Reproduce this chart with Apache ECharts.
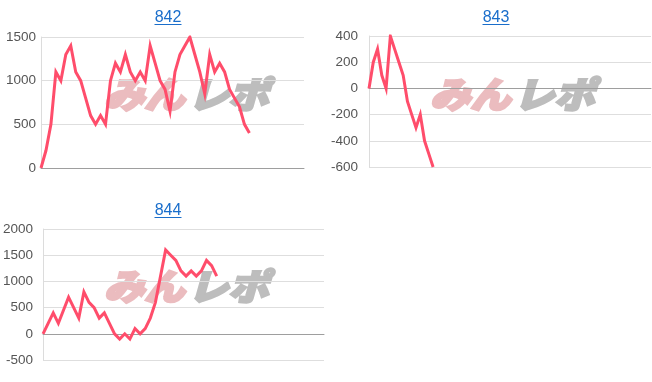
<!DOCTYPE html>
<html><head><meta charset="utf-8">
<script src="https://cdn.jsdelivr.net/npm/echarts@6/dist/echarts.min.js"></script>
<style>html,body{margin:0;padding:0;background:#fff}#c{width:652px;height:382px}</style>
</head><body><div id="c"></div>
<script>
// Titles
const titles = ['842', '843', '844'];
// Number of x slots per chart (x labels hidden)
const slotCounts = [54, 67, 56];
// Series values
const values842 = [0,200,500,1100,1000,1300,1400,1100,1000,800,600,500,600,500,1000,1200,1100,1300,1100,1000,1100,1000,1400,1200,1000,900,650,1100,1300,1400,1500,1300,1100,850,1300,1100,1200,1100,900,800,700,500,400];
const values843 = [0,200,300,100,0,400,300,200,100,-100,-200,-300,-200,-400,-500,-600];
const values844 = [0,200,400,200,450,700,500,300,800,600,500,300,400,200,0,-100,0,-100,100,0,100,300,600,1100,1600,1500,1400,1200,1100,1200,1100,1200,1400,1300,1100];
// Y axis ranges / tick labels
const yMin = [0, -600, -500];
const yMax = [1500, 400, 2000];
const yStep = [500, 200, 500];

const allValues = [values842, values843, values844];
const grids = [
  {left: 41, right: 348, top: 37, height: 131},
  {left: 369, right: 1, top: 36, height: 131},
  {left: 41, right: 328, top: 229, height: 131}
];
const labelMargins = [5, 11, 10];
const titleCenters = [[168, 18], [496, 18], [168, 211]];
const wmPos = [[104, 76], [430, 76], [104, 268]];

const LINE = '#ff4d6b';
const LINK = '#1a6ecb';
const FONT = 'Arial, "Liberation Sans", sans-serif';

const chart = echarts.init(document.getElementById('c'), null, {renderer: 'canvas'});
const cats = slotCounts.map(n => Array.from({length: n}, (_, i) => String(i + 1)));

const graphic = [];
titles.forEach((t, i) => {
  const [cx, cy] = titleCenters[i];
  graphic.push({type: 'text', silent: true, x: cx, y: cy,
    style: {text: t, fill: LINK, font: '16px ' + FONT, textAlign: 'center', textVerticalAlign: 'middle'}});
  graphic.push({type: 'line', silent: true, shape: {x1: cx - 13.5, y1: cy + 6.5, x2: cx + 13.5, y2: cy + 6.5}, style: {stroke: LINK, lineWidth: 1}});
  const [wx, wy] = wmPos[i];
  graphic.push({type: 'text', silent: true, z: 0, x: wx, y: wy, scaleX: 1.12,
    style: {text: 'みん', fill: '#ebbcbf', stroke: '#ebbcbf', lineWidth: 2.5, font: 'italic 900 36px "Noto Sans CJK JP"'}});
  graphic.push({type: 'text', silent: true, z: 0, x: wx + 84, y: wy, scaleX: 1.12,
    style: {text: 'レポ', fill: '#bdbdbd', stroke: '#bdbdbd', lineWidth: 2.5, font: 'italic 900 36px "Noto Sans CJK JP"'}});
});

chart.setOption({
  animation: false,
  grid: grids,
  xAxis: grids.map((g, i) => ({
    type: 'category', gridIndex: i, data: cats[i], boundaryGap: false,
    axisLabel: {show: false}, axisTick: {show: false},
    axisLine: {show: true, onZero: true, lineStyle: {color: '#9e9e9e', width: 1}},
    splitLine: {show: false}
  })),
  yAxis: grids.map((g, i) => ({
    type: 'value', gridIndex: i, min: yMin[i], max: yMax[i], interval: yStep[i],
    axisLine: {show: true, lineStyle: {color: '#dcdcdc'}},
    axisTick: {show: false},
    axisLabel: {color: '#555', fontSize: 13.5, fontFamily: FONT, margin: labelMargins[i], formatter: v => String(v)},
    splitLine: {show: true, lineStyle: {color: '#dedede'}}
  })),
  graphic: graphic,
  series: allValues.map((v, i) => ({
    type: 'line', xAxisIndex: i, yAxisIndex: i, data: v, symbol: 'none', z: 5,
    lineStyle: {color: LINE, width: 3, join: 'miter'}
  }))
});
</script>
</body></html>
